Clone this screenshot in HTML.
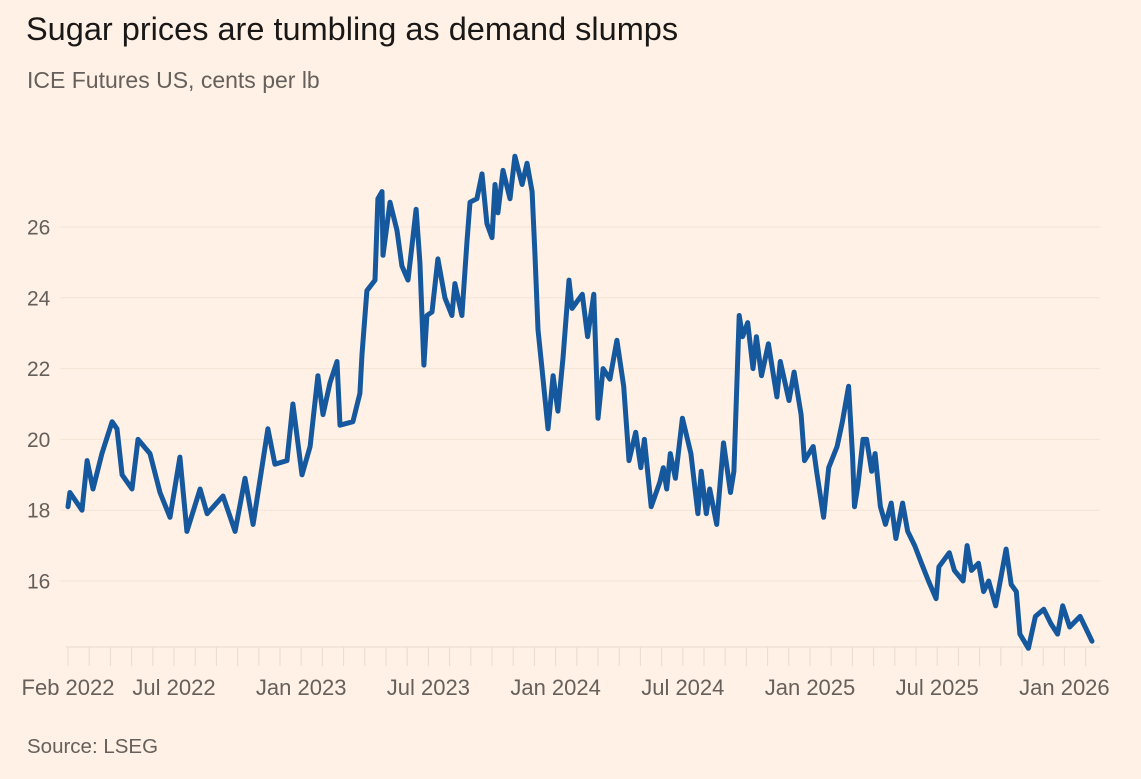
<!DOCTYPE html>
<html><head><meta charset="utf-8">
<style>
html,body{margin:0;padding:0;background:#fff1e5;}
body{width:1141px;height:779px;overflow:hidden;position:relative;font-family:"Liberation Sans",sans-serif;}
#title{position:absolute;left:26px;top:11px;font-size:32.5px;color:#1a1817;white-space:nowrap;}
#sub{position:absolute;left:27px;top:67px;font-size:23px;color:#66605c;white-space:nowrap;}
#src{position:absolute;left:27px;top:735px;font-size:20.5px;color:#66605c;}
svg{position:absolute;left:0;top:0;}
</style></head>
<body>
<div id="title">Sugar prices are tumbling as demand slumps</div>
<div id="sub">ICE Futures US, cents per lb</div>
<div id="src">Source: LSEG</div>
<svg id="chart" width="1141" height="779"></svg>
<script>
// months since Feb 2022
const months = [0,0.09,0.66,0.9,1.18,1.6,2.08,2.31,2.55,3.02,3.3,3.87,4.34,4.81,5.28,5.61,6.23,6.56,7.31,7.88,8.35,8.73,9.43,9.76,10.33,10.61,11.04,11.42,11.79,12.03,12.36,12.69,12.83,13.44,13.77,13.87,14.1,14.48,14.62,14.81,14.86,15.19,15.52,15.75,16.04,16.23,16.42,16.6,16.79,16.93,17.17,17.45,17.78,18.11,18.25,18.58,18.82,18.96,19.29,19.53,19.76,20,20.14,20.28,20.52,20.85,21.08,21.42,21.65,21.89,22.03,22.17,22.36,22.64,22.88,23.11,23.35,23.63,23.78,24.26,24.51,24.8,25,25.24,25.56,25.89,26.21,26.46,26.78,27.02,27.19,27.51,27.92,28.08,28.24,28.41,28.65,28.98,29.38,29.71,29.87,30.11,30.27,30.6,30.92,31.25,31.41,31.66,31.82,32.06,32.31,32.47,32.71,33.04,33.44,33.6,34.01,34.25,34.58,34.74,35.15,35.31,35.64,35.88,36.28,36.53,36.82,37.01,37.1,37.26,37.5,37.67,37.91,38.07,38.32,38.56,38.83,39.05,39.37,39.61,39.94,40.26,40.59,40.95,41.08,41.57,41.81,42.22,42.41,42.62,42.95,43.19,43.43,43.76,44.25,44.49,44.73,44.9,45.3,45.63,46.03,46.36,46.68,46.92,47.25,47.74,47.98,48.3];
const prices = [18.1,18.5,18.0,19.4,18.6,19.6,20.5,20.3,19.0,18.6,20.0,19.6,18.5,17.8,19.5,17.4,18.6,17.9,18.4,17.4,18.9,17.6,20.3,19.3,19.4,21.0,19.0,19.8,21.8,20.7,21.6,22.2,20.4,20.5,21.3,22.4,24.2,24.5,26.8,27.0,25.2,26.7,25.9,24.9,24.5,25.5,26.5,25.0,22.1,23.5,23.6,25.1,24.0,23.5,24.4,23.5,25.6,26.7,26.8,27.5,26.1,25.7,27.2,26.4,27.6,26.8,28.0,27.2,27.8,27.0,25.2,23.1,22.0,20.3,21.8,20.8,22.3,24.5,23.7,24.1,22.9,24.1,20.6,22.0,21.7,22.8,21.5,19.4,20.2,19.2,20.0,18.1,18.8,19.2,18.6,19.6,18.9,20.6,19.6,17.9,19.1,17.9,18.6,17.6,19.9,18.5,19.1,23.5,22.9,23.3,22.0,22.9,21.8,22.7,21.2,22.2,21.1,21.9,20.7,19.4,19.8,19.1,17.8,19.2,19.8,20.5,21.5,19.5,18.1,18.7,20.0,20.0,19.1,19.6,18.1,17.6,18.2,17.2,18.2,17.4,17.0,16.5,16.0,15.5,16.4,16.8,16.3,16.0,17.0,16.3,16.5,15.7,16.0,15.3,16.9,15.9,15.7,14.5,14.1,15.0,15.2,14.8,14.5,15.3,14.7,15.0,14.7,14.3];
const yTicks = [16,18,20,22,24,26];
const xTickLabels = ["Feb 2022","Jul 2022","Jan 2023","Jul 2023","Jan 2024","Jul 2024","Jan 2025","Jul 2025","Jan 2026"];
const xTickMonths = [0,5,11,17,23,29,35,41,47];

const NS="http://www.w3.org/2000/svg";
const svg=document.getElementById('chart');
const X=m=>68+m*21.2;
const Y=v=>581-(v-16)*35.4;
function el(t,a){const e=document.createElementNS(NS,t);for(const k in a)e.setAttribute(k,a[k]);svg.appendChild(e);return e;}
yTicks.forEach(v=>{
  const g=el('line',{x1:60,x2:1100,y1:Y(v),y2:Y(v),stroke:'#f3e4d7','stroke-width':1});
  
  
  const t=el('text',{x:27,y:Y(v)+7.5,'font-size':21,fill:'#66605c','font-family':'Liberation Sans, sans-serif'});
  t.textContent=v;
  
  
});
const ax=el('line',{x1:66,x2:1100,y1:647,y2:647,stroke:'#e6d9cd','stroke-width':1});


for(let m=0;m<=48;m++){
  const tk=el('line',{x1:X(m),x2:X(m),y1:647,y2:666,stroke:'#e8dbcf','stroke-width':1});
  
  
}
xTickLabels.forEach((s,i)=>{
  const t=el('text',{x:X(xTickMonths[i]),y:695,'font-size':22,fill:'#66605c','text-anchor':'middle','font-family':'Liberation Sans, sans-serif'});
  t.textContent=s;
  
  
});
let d='';
months.forEach((m,i)=>{d+=(i?'L':'M')+X(m).toFixed(1)+' '+Y(prices[i]).toFixed(1);});
const p=el('path',{d:d,fill:'none',stroke:'#16589e','stroke-width':5,'stroke-linejoin':'round','stroke-linecap':'round'});


</script>
</body></html>
